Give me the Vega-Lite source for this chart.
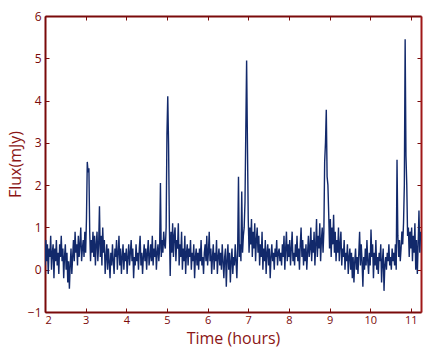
{
"$schema": "https://vega.github.io/schema/vega-lite/v6.json",
"width": 376, "height": 296,
"autosize": "none",
"padding": {"left": 45, "top": 16, "right": 21, "bottom": 37},
"background": "white",
"config": {"view": {"stroke": null}, "font": "Open Sans"},
"data": {"values": [
{"t":2.00,"f":0.1},{"t":2.02,"f":0.7},{"t":2.04,"f":0.2},{"t":2.06,"f":0.6},{"t":2.08,"f":-0.1},{"t":2.10,"f":0.5},{"t":2.12,"f":0.3},{"t":2.14,"f":0.8},{"t":2.16,"f":0.0},{"t":2.18,"f":0.4},
{"t":2.20,"f":0.6},{"t":2.22,"f":-0.2},{"t":2.24,"f":0.5},{"t":2.26,"f":0.2},{"t":2.28,"f":0.7},{"t":2.30,"f":0.1},{"t":2.32,"f":0.4},{"t":2.34,"f":-0.1},{"t":2.36,"f":0.6},{"t":2.38,"f":0.3},
{"t":2.40,"f":0.8},{"t":2.42,"f":0.2},{"t":2.44,"f":0.5},{"t":2.46,"f":-0.2},{"t":2.48,"f":0.3},{"t":2.50,"f":0.6},{"t":2.52,"f":0.0},{"t":2.54,"f":0.4},{"t":2.56,"f":-0.3},{"t":2.58,"f":0.2},
{"t":2.60,"f":-0.45},{"t":2.62,"f":0.1},{"t":2.64,"f":0.5},{"t":2.66,"f":-0.1},{"t":2.68,"f":0.3},{"t":2.70,"f":0.7},{"t":2.72,"f":0.2},{"t":2.74,"f":0.9},{"t":2.76,"f":0.4},{"t":2.78,"f":0.6},
{"t":2.80,"f":0.1},{"t":2.82,"f":0.8},{"t":2.84,"f":0.3},{"t":2.86,"f":0.6},{"t":2.88,"f":1.0},{"t":2.90,"f":0.2},{"t":2.92,"f":0.5},{"t":2.94,"f":0.7},{"t":2.96,"f":0.3},{"t":2.98,"f":0.9},
{"t":3.00,"f":0.4},{"t":3.02,"f":1.2},{"t":3.04,"f":2.55},{"t":3.06,"f":2.3},{"t":3.08,"f":2.4},{"t":3.10,"f":0.9},{"t":3.12,"f":0.2},{"t":3.14,"f":0.7},{"t":3.16,"f":0.4},{"t":3.18,"f":0.9},
{"t":3.20,"f":0.3},{"t":3.22,"f":0.8},{"t":3.24,"f":0.1},{"t":3.26,"f":0.6},{"t":3.28,"f":0.9},{"t":3.30,"f":0.2},{"t":3.32,"f":0.6},{"t":3.34,"f":1.5},{"t":3.36,"f":0.3},{"t":3.38,"f":0.8},
{"t":3.40,"f":0.1},{"t":3.42,"f":1.0},{"t":3.44,"f":0.4},{"t":3.46,"f":0.7},{"t":3.48,"f":-0.1},{"t":3.50,"f":0.3},{"t":3.52,"f":0.6},{"t":3.54,"f":0.0},{"t":3.56,"f":0.5},{"t":3.58,"f":0.2},
{"t":3.60,"f":-0.2},{"t":3.62,"f":0.4},{"t":3.64,"f":0.1},{"t":3.66,"f":0.6},{"t":3.68,"f":0.2},{"t":3.70,"f":-0.1},{"t":3.72,"f":0.5},{"t":3.74,"f":0.3},{"t":3.76,"f":0.7},{"t":3.78,"f":0.0},
{"t":3.80,"f":0.4},{"t":3.82,"f":0.8},{"t":3.84,"f":0.1},{"t":3.86,"f":0.5},{"t":3.88,"f":-0.1},{"t":3.90,"f":0.3},{"t":3.92,"f":0.6},{"t":3.94,"f":0.0},{"t":3.96,"f":0.4},{"t":3.98,"f":0.2},
{"t":4.00,"f":0.5},{"t":4.02,"f":-0.1},{"t":4.04,"f":0.3},{"t":4.06,"f":0.6},{"t":4.08,"f":0.1},{"t":4.10,"f":0.4},{"t":4.12,"f":0.7},{"t":4.14,"f":0.2},{"t":4.16,"f":0.5},{"t":4.18,"f":-0.2},
{"t":4.20,"f":0.3},{"t":4.22,"f":0.1},{"t":4.24,"f":0.6},{"t":4.26,"f":0.2},{"t":4.28,"f":0.4},{"t":4.30,"f":0.0},{"t":4.32,"f":0.5},{"t":4.34,"f":0.8},{"t":4.36,"f":0.1},{"t":4.38,"f":0.4},
{"t":4.40,"f":-0.1},{"t":4.42,"f":0.3},{"t":4.44,"f":0.6},{"t":4.46,"f":0.2},{"t":4.48,"f":0.5},{"t":4.50,"f":0.0},{"t":4.52,"f":0.4},{"t":4.54,"f":0.7},{"t":4.56,"f":0.1},{"t":4.58,"f":0.3},
{"t":4.60,"f":0.6},{"t":4.62,"f":0.2},{"t":4.64,"f":0.8},{"t":4.66,"f":0.1},{"t":4.68,"f":0.5},{"t":4.70,"f":0.3},{"t":4.72,"f":0.7},{"t":4.74,"f":0.0},{"t":4.76,"f":0.4},{"t":4.78,"f":0.6},
{"t":4.80,"f":0.2},{"t":4.82,"f":0.5},{"t":4.84,"f":2.05},{"t":4.86,"f":0.3},{"t":4.88,"f":0.7},{"t":4.90,"f":0.4},{"t":4.92,"f":0.9},{"t":4.94,"f":0.6},{"t":4.96,"f":0.5},{"t":4.98,"f":1.0},
{"t":5.00,"f":3.2},{"t":5.02,"f":4.1},{"t":5.04,"f":2.95},{"t":5.06,"f":1.0},{"t":5.08,"f":-0.15},{"t":5.10,"f":0.9},{"t":5.12,"f":0.4},{"t":5.14,"f":1.1},{"t":5.16,"f":0.3},{"t":5.18,"f":0.8},
{"t":5.20,"f":1.0},{"t":5.22,"f":0.2},{"t":5.24,"f":0.7},{"t":5.26,"f":0.5},{"t":5.28,"f":1.1},{"t":5.30,"f":0.1},{"t":5.32,"f":0.6},{"t":5.34,"f":0.3},{"t":5.36,"f":0.9},{"t":5.38,"f":0.0},
{"t":5.40,"f":0.5},{"t":5.42,"f":0.2},{"t":5.44,"f":0.8},{"t":5.46,"f":-0.1},{"t":5.48,"f":0.4},{"t":5.50,"f":0.6},{"t":5.52,"f":0.1},{"t":5.54,"f":0.5},{"t":5.56,"f":0.3},{"t":5.58,"f":0.7},
{"t":5.60,"f":0.0},{"t":5.62,"f":0.4},{"t":5.64,"f":0.2},{"t":5.66,"f":0.6},{"t":5.68,"f":-0.2},{"t":5.70,"f":0.3},{"t":5.72,"f":0.5},{"t":5.74,"f":0.1},{"t":5.76,"f":0.4},{"t":5.78,"f":0.0},
{"t":5.80,"f":0.5},{"t":5.82,"f":0.2},{"t":5.84,"f":0.7},{"t":5.86,"f":0.1},{"t":5.88,"f":0.3},{"t":5.90,"f":-0.1},{"t":5.92,"f":0.4},{"t":5.94,"f":0.6},{"t":5.96,"f":0.2},{"t":5.98,"f":0.8},
{"t":6.00,"f":0.1},{"t":6.02,"f":0.4},{"t":6.04,"f":0.9},{"t":6.06,"f":0.2},{"t":6.08,"f":0.5},{"t":6.10,"f":-0.1},{"t":6.12,"f":0.3},{"t":6.14,"f":0.6},{"t":6.16,"f":0.0},{"t":6.18,"f":0.4},
{"t":6.20,"f":0.2},{"t":6.22,"f":0.7},{"t":6.24,"f":-0.1},{"t":6.26,"f":0.3},{"t":6.28,"f":0.5},{"t":6.30,"f":0.1},{"t":6.32,"f":0.4},{"t":6.34,"f":0.0},{"t":6.36,"f":0.6},{"t":6.38,"f":0.2},
{"t":6.40,"f":-0.2},{"t":6.42,"f":0.3},{"t":6.44,"f":0.5},{"t":6.46,"f":-0.4},{"t":6.48,"f":0.2},{"t":6.50,"f":0.6},{"t":6.52,"f":0.0},{"t":6.54,"f":0.4},{"t":6.56,"f":-0.3},{"t":6.58,"f":0.2},
{"t":6.60,"f":0.5},{"t":6.62,"f":-0.1},{"t":6.64,"f":0.3},{"t":6.66,"f":0.1},{"t":6.68,"f":0.6},{"t":6.70,"f":0.2},{"t":6.72,"f":-0.2},{"t":6.74,"f":0.5},{"t":6.76,"f":2.2},{"t":6.78,"f":0.3},
{"t":6.80,"f":0.6},{"t":6.82,"f":0.2},{"t":6.84,"f":1.85},{"t":6.86,"f":0.4},{"t":6.88,"f":0.8},{"t":6.90,"f":1.0},{"t":6.92,"f":1.6},{"t":6.94,"f":3.3},{"t":6.96,"f":4.95},{"t":6.98,"f":3.0},
{"t":7.00,"f":1.2},{"t":7.02,"f":0.4},{"t":7.04,"f":1.0},{"t":7.06,"f":0.6},{"t":7.08,"f":1.2},{"t":7.10,"f":0.3},{"t":7.12,"f":0.9},{"t":7.14,"f":0.5},{"t":7.16,"f":1.1},{"t":7.18,"f":0.2},
{"t":7.20,"f":0.7},{"t":7.22,"f":1.0},{"t":7.24,"f":0.4},{"t":7.26,"f":0.8},{"t":7.28,"f":0.1},{"t":7.30,"f":0.6},{"t":7.32,"f":0.3},{"t":7.34,"f":0.9},{"t":7.36,"f":0.0},{"t":7.38,"f":0.5},
{"t":7.40,"f":0.2},{"t":7.42,"f":0.7},{"t":7.44,"f":-0.1},{"t":7.46,"f":0.4},{"t":7.48,"f":0.6},{"t":7.50,"f":0.1},{"t":7.52,"f":0.5},{"t":7.54,"f":-0.2},{"t":7.56,"f":0.3},{"t":7.58,"f":0.6},
{"t":7.60,"f":0.2},{"t":7.62,"f":0.4},{"t":7.64,"f":0.0},{"t":7.66,"f":0.5},{"t":7.68,"f":0.3},{"t":7.70,"f":0.7},{"t":7.72,"f":0.1},{"t":7.74,"f":0.4},{"t":7.76,"f":0.5},{"t":7.78,"f":0.2},
{"t":7.80,"f":0.4},{"t":7.82,"f":0.1},{"t":7.84,"f":0.6},{"t":7.86,"f":0.3},{"t":7.88,"f":0.8},{"t":7.90,"f":0.0},{"t":7.92,"f":0.5},{"t":7.94,"f":0.9},{"t":7.96,"f":0.2},{"t":7.98,"f":0.6},
{"t":8.00,"f":0.3},{"t":8.02,"f":0.7},{"t":8.04,"f":0.1},{"t":8.06,"f":0.5},{"t":8.08,"f":0.9},{"t":8.10,"f":0.2},{"t":8.12,"f":0.4},{"t":8.14,"f":0.1},{"t":8.16,"f":0.6},{"t":8.18,"f":0.3},
{"t":8.20,"f":0.8},{"t":8.22,"f":0.2},{"t":8.24,"f":0.5},{"t":8.26,"f":0.0},{"t":8.28,"f":0.6},{"t":8.30,"f":1.0},{"t":8.32,"f":0.3},{"t":8.34,"f":0.7},{"t":8.36,"f":0.1},{"t":8.38,"f":0.5},
{"t":8.40,"f":0.2},{"t":8.42,"f":0.6},{"t":8.44,"f":0.0},{"t":8.46,"f":0.4},{"t":8.48,"f":0.8},{"t":8.50,"f":0.3},{"t":8.52,"f":0.5},{"t":8.54,"f":1.0},{"t":8.56,"f":0.2},{"t":8.58,"f":0.7},
{"t":8.60,"f":0.4},{"t":8.62,"f":0.9},{"t":8.64,"f":0.1},{"t":8.66,"f":0.6},{"t":8.68,"f":1.2},{"t":8.70,"f":0.3},{"t":8.72,"f":0.8},{"t":8.74,"f":0.5},{"t":8.76,"f":1.1},{"t":8.78,"f":0.2},
{"t":8.80,"f":0.7},{"t":8.82,"f":1.0},{"t":8.84,"f":0.4},{"t":8.86,"f":0.9},{"t":8.88,"f":2.55},{"t":8.90,"f":3.0},{"t":8.92,"f":3.78},{"t":8.94,"f":2.2},{"t":8.96,"f":2.0},{"t":8.98,"f":1.3},
{"t":9.00,"f":0.5},{"t":9.02,"f":1.2},{"t":9.04,"f":0.3},{"t":9.06,"f":1.0},{"t":9.08,"f":0.6},{"t":9.10,"f":1.3},{"t":9.12,"f":0.4},{"t":9.14,"f":0.9},{"t":9.16,"f":0.2},{"t":9.18,"f":0.7},
{"t":9.20,"f":0.4},{"t":9.22,"f":1.0},{"t":9.24,"f":0.2},{"t":9.26,"f":0.6},{"t":9.28,"f":0.9},{"t":9.30,"f":0.1},{"t":9.32,"f":0.5},{"t":9.34,"f":0.3},{"t":9.36,"f":0.7},{"t":9.38,"f":0.0},
{"t":9.40,"f":0.4},{"t":9.42,"f":0.2},{"t":9.44,"f":0.6},{"t":9.46,"f":-0.1},{"t":9.48,"f":0.3},{"t":9.50,"f":0.5},{"t":9.52,"f":0.0},{"t":9.54,"f":0.4},{"t":9.56,"f":-0.2},{"t":9.58,"f":0.3},
{"t":9.60,"f":-0.3},{"t":9.62,"f":0.2},{"t":9.64,"f":0.5},{"t":9.66,"f":0.0},{"t":9.68,"f":0.3},{"t":9.70,"f":-0.1},{"t":9.72,"f":0.4},{"t":9.74,"f":0.9},{"t":9.76,"f":0.1},{"t":9.78,"f":0.6},
{"t":9.80,"f":0.2},{"t":9.82,"f":-0.4},{"t":9.84,"f":0.3},{"t":9.86,"f":0.0},{"t":9.88,"f":0.5},{"t":9.90,"f":0.1},{"t":9.92,"f":0.7},{"t":9.94,"f":0.2},{"t":9.96,"f":-0.1},{"t":9.98,"f":0.4},
{"t":10.00,"f":0.1},{"t":10.02,"f":0.95},{"t":10.04,"f":0.3},{"t":10.06,"f":0.6},{"t":10.08,"f":-0.2},{"t":10.10,"f":0.4},{"t":10.12,"f":0.1},{"t":10.14,"f":0.7},{"t":10.16,"f":0.0},{"t":10.18,"f":0.3},
{"t":10.20,"f":-0.1},{"t":10.22,"f":0.4},{"t":10.24,"f":0.2},{"t":10.26,"f":0.6},{"t":10.28,"f":-0.3},{"t":10.30,"f":0.2},{"t":10.32,"f":0.5},{"t":10.34,"f":-0.5},{"t":10.36,"f":0.1},{"t":10.38,"f":0.3},
{"t":10.40,"f":0.0},{"t":10.42,"f":0.4},{"t":10.44,"f":0.2},{"t":10.46,"f":0.6},{"t":10.48,"f":0.1},{"t":10.50,"f":0.3},{"t":10.52,"f":0.0},{"t":10.54,"f":0.5},{"t":10.56,"f":0.2},{"t":10.58,"f":0.4},
{"t":10.60,"f":0.1},{"t":10.62,"f":0.6},{"t":10.64,"f":0.0},{"t":10.66,"f":2.6},{"t":10.68,"f":0.8},{"t":10.70,"f":0.3},{"t":10.72,"f":0.7},{"t":10.74,"f":0.2},{"t":10.76,"f":0.5},{"t":10.78,"f":0.9},
{"t":10.80,"f":0.6},{"t":10.82,"f":1.1},{"t":10.84,"f":2.0},{"t":10.86,"f":5.45},{"t":10.88,"f":2.7},{"t":10.90,"f":2.0},{"t":10.92,"f":0.8},{"t":10.94,"f":1.0},{"t":10.96,"f":0.3},{"t":10.98,"f":0.9},
{"t":11.00,"f":0.5},{"t":11.02,"f":1.0},{"t":11.04,"f":0.2},{"t":11.06,"f":0.8},{"t":11.08,"f":0.4},{"t":11.10,"f":1.1},{"t":11.12,"f":0.0},{"t":11.14,"f":0.7},{"t":11.16,"f":-0.1},{"t":11.18,"f":0.6},
{"t":11.20,"f":1.4},{"t":11.22,"f":0.4},{"t":11.24,"f":0.9}
]},
"layer": [
{
"mark": {"type": "line", "color": "#12296b", "strokeWidth": 1.4, "clip": true},
"encoding": {
"x": {"field": "t", "type": "quantitative", "scale": {"domain": [2, 11.25], "nice": false, "zero": false},
"axis": {"orient": "bottom", "title": "Time (hours)", "values": [2,3,4,5,6,7,8,9,10,11], "grid": false,
"domainColor": "#7a0a0a", "domainWidth": 2, "tickColor": "#7a0a0a", "tickSize": -4,
"labelColor": "#7a0a0a", "labelFontSize": 11, "labelPadding": 6, "labelFont": "Open Sans",
"titleColor": "#8b1515", "titleFontSize": 16, "titleFontWeight": "normal", "titleFont": "Open Sans", "titlePadding": 5}},
"y": {"field": "f", "type": "quantitative", "scale": {"domain": [-1, 6], "nice": false, "zero": false},
"axis": {"orient": "left", "title": "Flux(mJy)", "values": [-1,0,1,2,3,4,5,6], "grid": false,
"domainColor": "#7a0a0a", "domainWidth": 2, "tickColor": "#7a0a0a", "tickSize": -4,
"labelColor": "#7a0a0a", "labelFontSize": 12, "labelPadding": 8, "labelFont": "Open Sans",
"titleColor": "#8b1515", "titleFontSize": 16, "titleFontWeight": "normal", "titleFont": "Open Sans", "titlePadding": 4}}
}
},
{
"mark": {"type": "line", "strokeOpacity": 0},
"encoding": {
"x": {"field": "t", "type": "quantitative", "scale": {"domain": [2, 11.25], "nice": false, "zero": false},
"axis": {"orient": "top", "title": null, "labels": false, "values": [2,3,4,5,6,7,8,9,10,11], "grid": false,
"domainColor": "#7a0a0a", "domainWidth": 2, "tickColor": "#7a0a0a", "tickSize": -4}},
"y": {"field": "f", "type": "quantitative", "scale": {"domain": [-1, 6], "nice": false, "zero": false},
"axis": {"orient": "right", "title": null, "labels": false, "values": [-1,0,1,2,3,4,5,6], "grid": false,
"domainColor": "#a01818", "domainWidth": 2, "tickColor": "#7a0a0a", "tickSize": -4}}
}
}
],
"resolve": {"axis": {"x": "independent", "y": "independent"}}
}
